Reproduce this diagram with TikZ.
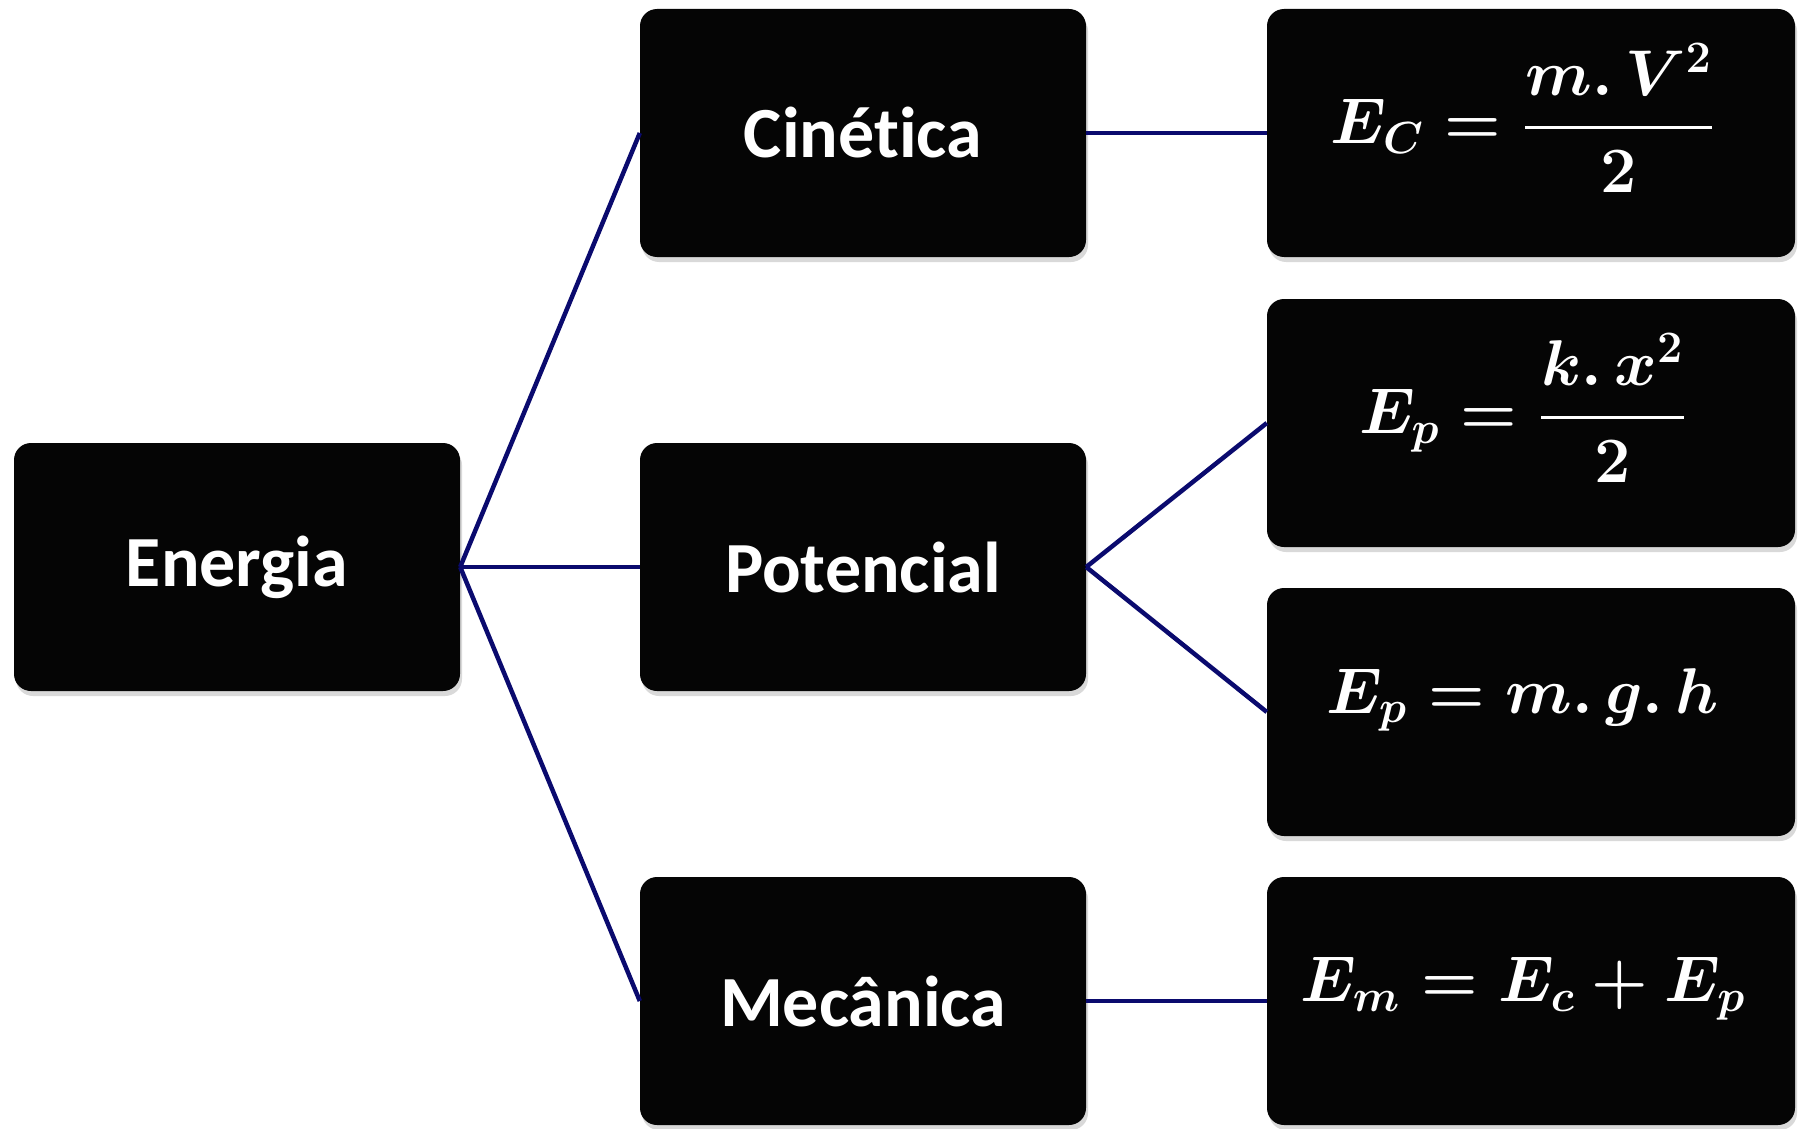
\documentclass[tikz,border=0pt]{standalone}
\usepackage{fontspec}
\usepackage{amsmath}
\usepackage{graphicx}
\newfontfamily\labelfont{Carlito}[Ligatures={NoCommon}]
\usetikzlibrary{shadows}
\definecolor{linkblue}{RGB}{10,10,110}
\definecolor{boxblack}{RGB}{5,5,5}
\newcommand{\formula}[1]{\scalebox{2.6}{\fontsize{24}{29}\selectfont\boldmath$\displaystyle #1$}}
\tikzset{
  box/.style={fill=boxblack, rounded corners=17pt, inner sep=0pt, text=white,
    drop shadow={opacity=0.3, shadow xshift=2pt, shadow yshift=-5pt}},
  termbox/.style={box, minimum width=446pt, minimum height=248pt,
    font=\labelfont\bfseries\fontsize{72}{86}\selectfont},
  formbox/.style={box, minimum width=528pt, minimum height=248pt},
  formtext/.style={inner sep=0pt, text=white},
  link/.style={draw=linkblue, line width=4.5pt}
}
\begin{document}
\begin{tikzpicture}[x=1pt, y=-1pt]
  \useasboundingbox (0,0) rectangle (1802,1129);

  % concept boxes
  \node[termbox] (energia)   at (237,567)  {Energia};
  \node[termbox] (cinetica)  at (863,133)  {Cinética};
  \node[termbox] (potencial) at (863,567)  {Potencial};
  \node[termbox] (mecanica)  at (863,1001) {Mecânica};

  % formula boxes
  \node[formbox] (fc)  at (1531,133)  {};
  \node[formbox] (fpe) at (1531,423)  {};
  \node[formbox] (fpg) at (1531,712)  {};
  \node[formbox] (fm)  at (1531,1001) {};

  \node[formtext] (tc)  at ([xshift=-8pt,yshift=15pt]fc.center)
    {\formula{E_C=\frac{m.\,V^2}{2}}};
  \node[formtext] (tpe) at ([xshift=-8pt,yshift=15pt]fpe.center)
    {\formula{E_p=\frac{k.\,x^2}{2}}};
  \node[formtext] (tpg) at ([xshift=-8pt,yshift=12pt]fpg.center)
    {\formula{E_p=m.\,g.\,h}};
  \node[formtext] (tm)  at ([xshift=-8pt,yshift=12pt]fm.center)
    {\formula{E_m=E_c+E_p}};

  % connectors
  \draw[link] (energia.east) -- (cinetica.west);
  \draw[link] (energia.east) -- (potencial.west);
  \draw[link] (energia.east) -- (mecanica.west);
  \draw[link] (cinetica.east) -- (fc.west);
  \draw[link] (potencial.east) -- (fpe.west);
  \draw[link] (potencial.east) -- (fpg.west);
  \draw[link] (mecanica.east) -- (fm.west);
\end{tikzpicture}
\end{document}
